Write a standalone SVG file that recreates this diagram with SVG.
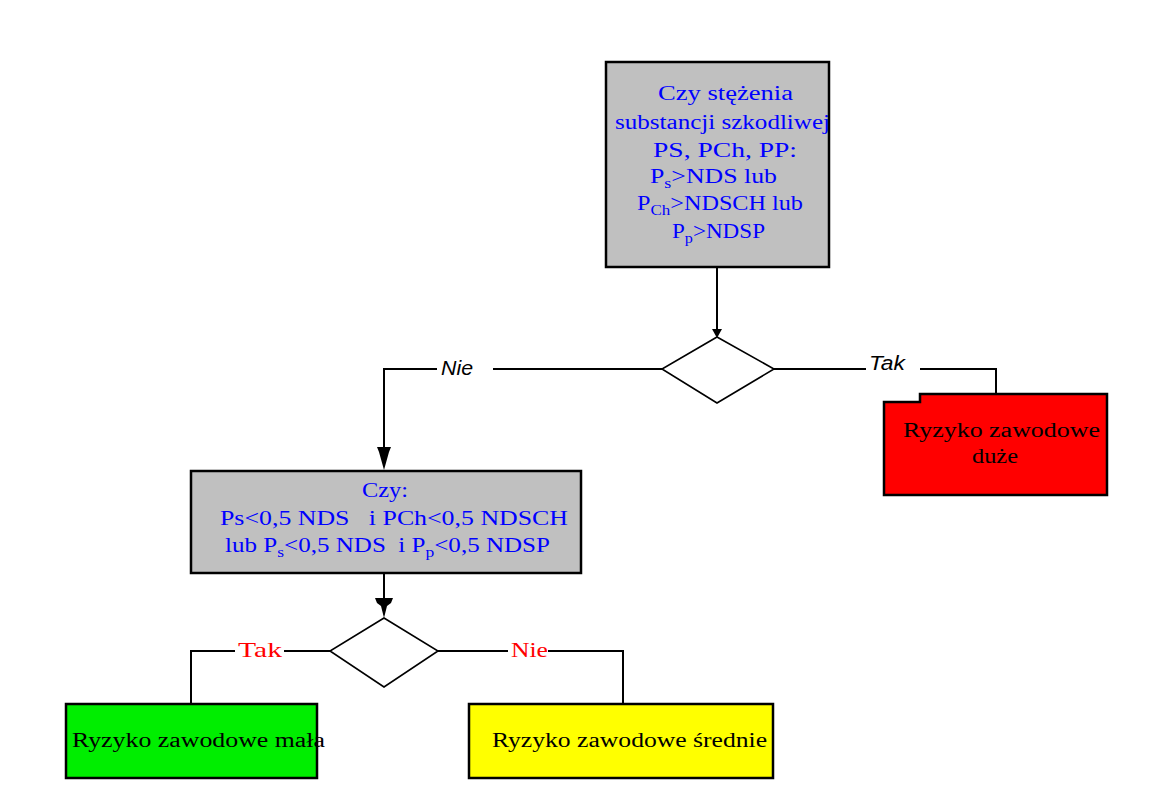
<svg xmlns="http://www.w3.org/2000/svg" width="1170" height="810" viewBox="0 0 1170 810">
<style>
.box{stroke:#000;stroke-width:2.5}
.q{font-family:"Liberation Serif",serif;font-size:20px;fill:#0000ff}
.r{font-family:"Liberation Serif",serif;font-size:20px;fill:#000}
.lbl{font-family:"Liberation Sans",Arial,sans-serif;font-style:italic;font-size:20px;fill:#000}
.lr{font-family:"Liberation Serif",serif;font-size:21px;fill:#ff0000}
.ln{fill:none;stroke:#000;stroke-width:2}
.dm{fill:#fff;stroke:#000;stroke-width:1.6}
.sub{font-size:14px}
</style>
<rect width="1170" height="810" fill="#fff"/>
<g id="connectors">
<path class="ln" d="M717,267 L717,330"/>
<path d="M712,329 L722,329 L717,338 Z" fill="#000"/>
<path class="ln" d="M774,369 L866,369"/>
<path class="ln" d="M920,369 L996,369 L996,394"/>
<path class="ln" d="M662,369 L493,369"/>
<path class="ln" d="M437,369 L384,369 L384,455"/>
<path d="M377,447 L391,447 L389,452 L384,470 L379,452 Z" fill="#000"/>
<path class="ln" d="M384,573 L384,600"/>
<path d="M375,598 L393,598 L391,603 L387,606 L384,618 L381,606 L377,603 Z" fill="#000"/>
<path class="ln" d="M330,651 L284,651"/>
<path class="ln" d="M235,651 L191,651 L191,704"/>
<path class="ln" d="M438,651 L508,651"/>
<path class="ln" d="M548,651 L623,651 L623,704"/>
<text class="lbl" x="869" y="370" textLength="36" lengthAdjust="spacingAndGlyphs">Tak</text>
<text class="lbl" x="441" y="375" textLength="32" lengthAdjust="spacingAndGlyphs">Nie</text>
<text class="lr" x="238" y="657" textLength="44" lengthAdjust="spacingAndGlyphs">Tak</text>
<text class="lr" x="511" y="657" textLength="37" lengthAdjust="spacingAndGlyphs">Nie</text>
</g>
<g id="q1">
<rect class="box" x="606" y="62" width="223" height="205" fill="#c0c0c0"/>
<text class="q" x="658" y="100" textLength="135" lengthAdjust="spacingAndGlyphs">Czy stężenia</text>
<text class="q" x="615" y="129" textLength="215" lengthAdjust="spacingAndGlyphs">substancji szkodliwej</text>
<text class="q" x="653" y="157" textLength="144" lengthAdjust="spacingAndGlyphs">PS, PCh, PP:</text>
<text class="q" x="650" y="183" textLength="127" lengthAdjust="spacingAndGlyphs">P<tspan class="sub" dy="5">s</tspan><tspan dy="-5">&gt;NDS lub</tspan></text>
<text class="q" x="637" y="210" textLength="166" lengthAdjust="spacingAndGlyphs">P<tspan class="sub" dy="5">Ch</tspan><tspan dy="-5">&gt;NDSCH lub</tspan></text>
<text class="q" x="672" y="238" textLength="93" lengthAdjust="spacingAndGlyphs">P<tspan class="sub" dy="5">p</tspan><tspan dy="-5">&gt;NDSP</tspan></text>
</g>
<g id="d1">
<path class="dm" d="M717,337 L774,369 L717,403 L662,369 Z"/>
</g>
<g id="high">
<path class="box" d="M884,402 L920,402 L920,394 L1107,394 L1107,495 L884,495 Z" fill="#ff0000"/>
<text class="r" x="903" y="437" textLength="197" lengthAdjust="spacingAndGlyphs">Ryzyko zawodowe</text>
<text class="r" x="972" y="463" textLength="46" lengthAdjust="spacingAndGlyphs">duże</text>
</g>
<g id="q2">
<rect class="box" x="191" y="471" width="390" height="102" fill="#c0c0c0"/>
<text class="q" x="362" y="497" textLength="46" lengthAdjust="spacingAndGlyphs">Czy:</text>
<text class="q" x="220" y="525" textLength="348" lengthAdjust="spacingAndGlyphs" xml:space="preserve">Ps&lt;0,5 NDS   i PCh&lt;0,5 NDSCH</text>
<text class="q" x="225" y="552" textLength="325" lengthAdjust="spacingAndGlyphs" xml:space="preserve">lub P<tspan class="sub" dy="5">s</tspan><tspan dy="-5">&lt;0,5 NDS  i P</tspan><tspan class="sub" dy="5">p</tspan><tspan dy="-5">&lt;0,5 NDSP</tspan></text>
</g>
<g id="d2">
<path class="dm" d="M384,618 L438,651 L384,687 L330,651 Z"/>
</g>
<g id="low">
<rect class="box" x="66" y="704" width="251" height="74" fill="#00ee00"/>
<text class="r" x="72" y="747" textLength="253" lengthAdjust="spacingAndGlyphs">Ryzyko zawodowe mała</text>
</g>
<g id="mid">
<rect class="box" x="469" y="704" width="304" height="74" fill="#ffff00"/>
<text class="r" x="492" y="747" textLength="275" lengthAdjust="spacingAndGlyphs">Ryzyko zawodowe średnie</text>
</g>
</svg>
